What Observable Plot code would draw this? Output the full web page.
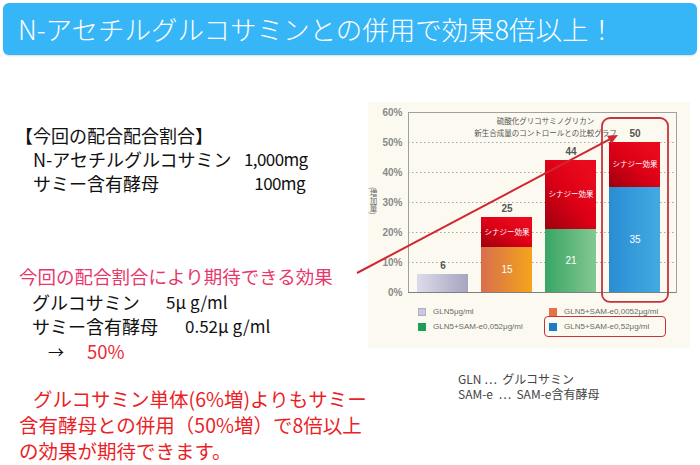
<!DOCTYPE html>
<html><head><meta charset="utf-8">
<script src="https://cdn.jsdelivr.net/npm/d3@7"></script>
<script src="https://cdn.jsdelivr.net/npm/@observablehq/plot@0.6"></script>
<style>
html,body{margin:0;padding:0;background:#fff;}
#page{position:relative;width:700px;height:465px;overflow:hidden;font-family:"Noto Sans CJK JP","Noto Sans",sans-serif;}
.t{position:absolute;white-space:pre;}
#banner{position:absolute;left:3px;top:3px;width:694px;height:52px;background:#36b5f7;border-radius:6px;box-shadow:0 1px 2px rgba(0,0,0,0.15);}
#chartbg{position:absolute;left:368px;top:102px;width:322px;height:246px;background:#fcfaf0;}
#chart{position:absolute;left:350px;top:100px;}
#chart svg g[aria-label^="y-axis"] text{font-weight:bold;}
.leg{position:absolute;font-family:"Liberation Sans",Arial,sans-serif;font-size:8px;color:#6a6a6a;white-space:pre;line-height:10px;}
.sw{position:absolute;width:8px;height:8px;}
#ylab{position:absolute;writing-mode:vertical-rl;font-size:7.5px;line-height:8px;color:#666;font-family:"Noto Sans CJK JP",sans-serif;}
</style></head>
<body><div id="page">
<div id="banner"></div>
<div id="chartbg"></div>
<div id="chart"></div>
</div>
<script>
// ---- data ----
const categories = ["GLN5μg/ml", "GLN5+SAM-e0,0052μg/ml", "GLN5+SAM-e0,052μg/ml", "GLN5+SAM-e0,52μg/ml"];
const baseValues = [6, 15, 21, 35];
const totalValues = [6, 25, 44, 50];
const yTicks = [0, 10, 20, 30, 40, 50, 60];
const gridValues = [10, 20, 30, 40, 50];
const synergyLabel = "シナジー効果";
const chartTitle = "硫酸化グリコサミノグリカン\n新生合成量のコントロールとの比較グラフ";
const yLabel = "(増加量)";
const highlighted = "GLN5+SAM-e0,52μg/ml";
const legendOrder = [0, 1, 2, 3];

// ---- styles ----
const gradIds = ["gLav", "gOra", "gGrn", "gBlu"];
const gradStops = {
  gLav: ["#dddbeb", "#a6a4bf"],
  gOra: ["#d86e4e", "#f4a41a"],
  gGrn: ["#38a564", "#84c892"],
  gBlu: ["#2a8dd2", "#42aae3"]
};
const swatchColors = ["#cac8de", "#e8714a", "#1d9f58", "#1b7bc9"];

const rows = categories.map((c, i) => ({cat: c, base: baseValues[i], total: totalValues[i], i}));

const page = document.getElementById("page");
// place a (possibly multi-line) text block; cy = centre of first line, lh = line height in px
function place(txt, x, cy, size, color, lh, extra = {}) {
  const d = document.createElement("div");
  d.className = "t";
  d.textContent = txt;
  Object.assign(d.style, {left: x + "px", top: (cy - lh / 2) + "px", fontSize: size + "px", lineHeight: lh + "px", color}, extra);
  page.appendChild(d);
  return d;
}

// banner title
place("N-アセチルグルコサミンとの併用で効果8倍以上！", 18, 29, 26.5, "#ffffff", 36, {fontWeight: 300});

// left text, block 1
place("【今回の配合配合割合】\n　N-アセチルグルコサミン\n　サミー含有酵母", 15, 135, 18, "#111", 24);
place("1,000mg\n100mg", 244, 159, 17, "#111", 24, {textAlign: "right", width: "61px", letterSpacing: "-0.6px"});

// block 2
place("今回の配合割合により期待できる効果", 19, 275.5, 18.5, "#e8386b", 26);
place("グルコサミン\nサミー含有酵母", 32, 301.5, 18, "#111", 24);
place("5μ g/ml", 166, 301.5, 17, "#111", 24);
place("0.52μ g/ml", 185, 325.5, 17, "#111", 24);
place("→", 48, 351, 16, "#111", 22);
place("50%", 87, 351, 18.5, "#ea2b35", 24);

// block 3
place("グルコサミン単体(6%増)よりもサミー\n含有酵母との併用（50%増）で8倍以上\nの効果が期待できます。", 19, 399, 19.5, "#ea1f28", 26, {});
page.lastChild.innerHTML = "";
{
  const el = page.lastChild;
  const lines = ["グルコサミン単体(6%増)よりもサミー", "含有酵母との併用（50%増）で8倍以上", "の効果が期待できます。"];
  el.textContent = lines.join("\n");
  el.style.textIndent = "14px";
}

// abbreviations note
place("GLN ⋯  グルコサミン\nSAM-e  ⋯  SAM-e含有酵母", 458, 378.5, 12, "#444", 15.5);

// y label (vertical writing)
const yl = document.createElement("div");
yl.id = "ylab";
yl.textContent = yLabel;
Object.assign(yl.style, {left: "369px", top: "187px"});
page.appendChild(yl);

// ---- chart ----
const W = 345, H = 245;
const defsMark = () => {
  const defs = d3.create("svg:defs");
  for (const id of gradIds) {
    const g = defs.append("linearGradient").attr("id", id).attr("x1", 0).attr("y1", 0).attr("x2", 1).attr("y2", 0);
    g.append("stop").attr("offset", "0%").attr("stop-color", gradStops[id][0]);
    g.append("stop").attr("offset", "100%").attr("stop-color", gradStops[id][1]);
  }
  const r = defs.append("linearGradient").attr("id", "gRed").attr("x1", 0).attr("y1", 1).attr("x2", 0.8).attr("y2", 0.1);
  r.append("stop").attr("offset", "0%").attr("stop-color", "#9c000e");
  r.append("stop").attr("offset", "55%").attr("stop-color", "#dc0016");
  r.append("stop").attr("offset", "100%").attr("stop-color", "#ea0a1c");
  return defs.node();
};

const chart = Plot.plot({
  width: W, height: H,
  marginLeft: 58, marginRight: 19, marginTop: 12, marginBottom: 53,
  style: {fontFamily: "'Liberation Sans',Arial,sans-serif", fontSize: "10px", color: "#8a8a8a", background: "transparent", overflow: "visible"},
  x: {domain: categories, axis: null, paddingInner: 0.2, paddingOuter: 0.17, align: 0.36},
  y: {domain: [0, 60], ticks: yTicks, tickFormat: d => d + "%", tickSize: 0, tickPadding: 6, label: null},
  marks: [
    defsMark,
    Plot.ruleY(gridValues, {stroke: "#a8a8a8", strokeDasharray: "1.5,2.5", strokeWidth: 1}),
    ...rows.map(r => Plot.barY([r], {x: "cat", y: "base", fill: `url(#${gradIds[r.i]})`})),
    Plot.barY(rows.filter(d => d.total > d.base), {x: "cat", y1: "base", y2: "total", fill: "url(#gRed)"}),
    Plot.frame({stroke: "#a0a0a0", fill: "none"}),
    Plot.ruleY([0], {stroke: "#808080", strokeWidth: 1.2}),
    Plot.text(rows, {x: "cat", y: "total", text: d => String(d.total), dy: -9, fill: "#555", fontSize: 10, fontWeight: "bold"}),
    Plot.text(rows.filter(d => d.total > d.base), {x: "cat", y: d => d.base / 2, text: d => String(d.base), fill: "#fff", fontSize: 10}),
    Plot.text(rows.filter(d => d.total > d.base), {x: "cat", y: d => (d.base + d.total) / 2, text: () => synergyLabel, fill: "#fff", fontSize: 7.5, fontFamily: "'Noto Sans CJK JP',sans-serif"}),
    Plot.text([chartTitle], {frameAnchor: "top", text: d => d, dx: 3, dy: 3, lineAnchor: "top", lineHeight: 1.6, fontSize: 7.5, fill: "#555", fontFamily: "'Noto Sans CJK JP',sans-serif"}),
    Plot.barY(rows.filter(d => d.cat === highlighted), {x: "cat", y1: -3.3, y2: 58, insetLeft: -7, insetRight: -8, rx: 8, fill: "none", stroke: "#c4343c", strokeWidth: 1.8})
  ]
});
document.getElementById("chart").appendChild(chart);

// legend
const legPos = [[418, 308], [549, 308], [418, 323], [549, 323]];
legendOrder.forEach((i, k) => {
  const [x, y] = legPos[k];
  const s = document.createElement("div");
  s.className = "sw";
  Object.assign(s.style, {left: x + "px", top: y + "px", background: swatchColors[i], border: i === 0 ? "1px solid #b0aec8" : "none", width: i === 0 ? "6px" : "8px", height: i === 0 ? "6px" : "8px"});
  page.appendChild(s);
  const t = document.createElement("div");
  t.className = "leg";
  t.textContent = categories[i];
  Object.assign(t.style, {left: (x + 15) + "px", top: (y - 1) + "px"});
  page.appendChild(t);
});
const lb = document.createElement("div");
Object.assign(lb.style, {position: "absolute", left: "544px", top: "316px", width: "120px", height: "19px", border: "1.8px solid #c4343c", borderRadius: "4px"});
page.appendChild(lb);

// annotation arrow (overlay)
const ns = "http://www.w3.org/2000/svg";
const ov = document.createElementNS(ns, "svg");
ov.setAttribute("width", 700); ov.setAttribute("height", 465);
Object.assign(ov.style, {position: "absolute", left: 0, top: 0, pointerEvents: "none"});
const p0 = [357, 273], p1 = [618, 135];
const dx = p1[0] - p0[0], dy = p1[1] - p0[1], L = Math.hypot(dx, dy), ux = dx / L, uy = dy / L;
const hl = 10, hw = 4.5;
const bx = p1[0] - ux * hl, by = p1[1] - uy * hl;
const line = document.createElementNS(ns, "line");
line.setAttribute("x1", p0[0]); line.setAttribute("y1", p0[1]);
line.setAttribute("x2", bx + ux * 2); line.setAttribute("y2", by + uy * 2);
line.setAttribute("stroke", "#d02830"); line.setAttribute("stroke-width", 2);
ov.appendChild(line);
const head = document.createElementNS(ns, "polygon");
head.setAttribute("points", `${p1[0]},${p1[1]} ${bx - uy * hw},${by + ux * hw} ${bx + uy * hw},${by - ux * hw}`);
head.setAttribute("fill", "#d02830");
ov.appendChild(head);
page.appendChild(ov);
</script>
</body></html>
